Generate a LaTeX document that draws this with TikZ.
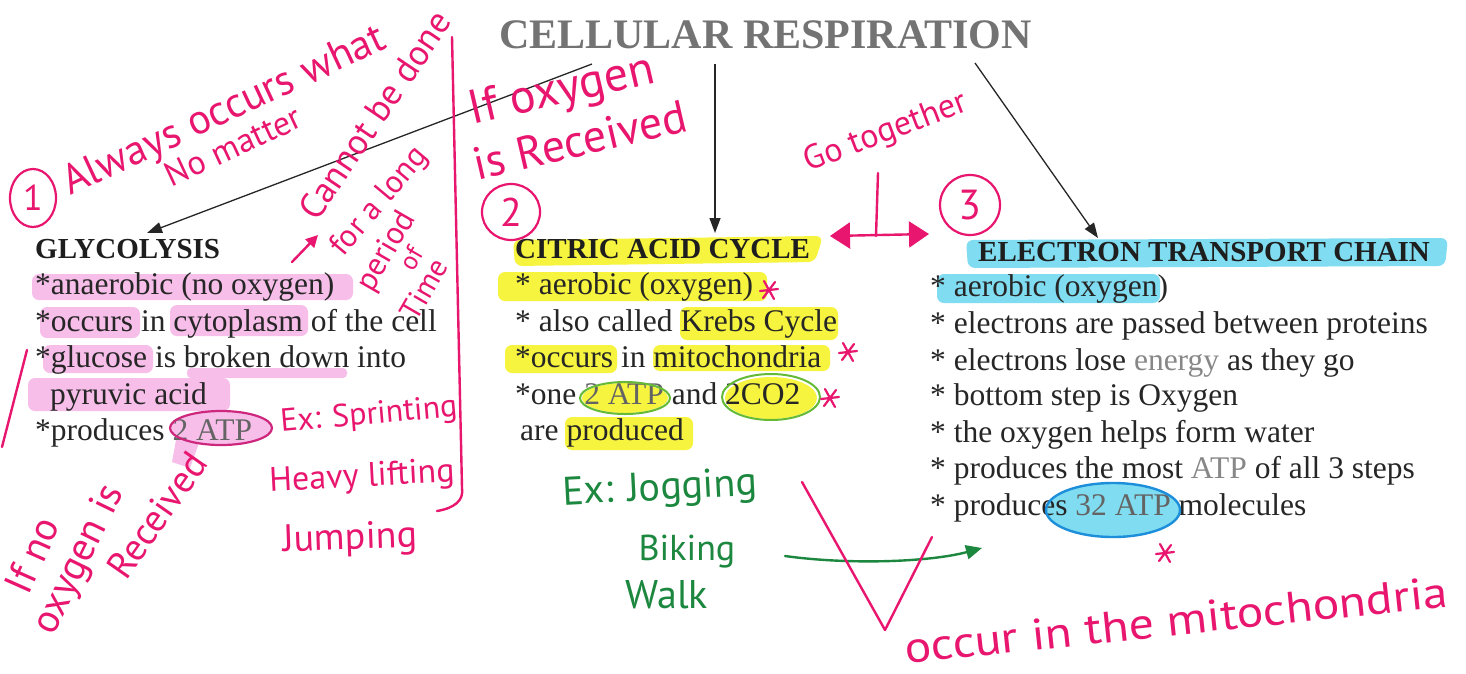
\documentclass[tikz,border=0pt]{standalone}
\usepackage{fontspec}
\setmainfont{Liberation Serif}
\newfontfamily\bodyserif{Liberation Serif}
\newfontfamily\hand{PT Sans}
\usetikzlibrary{shapes.geometric,arrows.meta}
\newcommand\fsz[1]{\fontsize{#1}{#1}\selectfont}
\definecolor{ink}{RGB}{232,22,110}
\definecolor{gink}{RGB}{28,135,62}
\definecolor{hlpink}{RGB}{247,190,234}
\definecolor{hlyel}{RGB}{246,244,62}
\definecolor{hlcyan}{RGB}{128,220,240}
\definecolor{titlegray}{RGB}{115,115,115}
\definecolor{bodytxt}{RGB}{38,38,38}
\definecolor{headtxt}{RGB}{30,30,30}
\definecolor{lightword}{RGB}{135,135,135}
\definecolor{grayword}{RGB}{100,100,100}
\definecolor{ringgreen}{RGB}{100,185,55}
\definecolor{ringblue}{RGB}{28,142,218}
\definecolor{ringpink}{RGB}{205,40,125}
\tikzset{pstar/.pic={\draw[draw=ink,line width=2.2pt,line cap=round] (-9,1)--(9,-1) (-5,-9)--(5,9) (-6,8)--(6,-8);}}
\begin{document}
\begin{tikzpicture}[x=1pt,y=-1pt,
  body/.style={anchor=base west, inner sep=0pt, text=bodytxt, font=\bodyserif\fsz{31.5}},
  head/.style={anchor=base west, inner sep=0pt, text=headtxt, font=\bodyserif\bfseries\fsz{29}},
  hw/.style={inner sep=0pt, text=ink, font=\hand\fsz{#1}},
  gw/.style={inner sep=0pt, text=gink, font=\hand\fsz{#1}},
  pen/.style={draw=ink, line width=2.4pt, line cap=round, line join=round},
  gpen/.style={draw=gink, line width=2.4pt, line cap=round},
  conn/.style={draw=black!85, line width=1.3pt, -{Triangle[length=15pt,width=11pt]}},
  hlp/.style={fill=hlpink, rounded corners=7pt},
  hly/.style={fill=hlyel, rounded corners=7pt},
  hlc/.style={fill=hlcyan, rounded corners=7pt},
  numring/.style={draw=ink, line width=2.2pt, ellipse, inner sep=0pt, text=ink, font=\hand\fsz{#1}}
]
\useasboundingbox (0,0) rectangle (1466,673);
\fill[white] (0,0) rectangle (1466,673);

% ---------- highlights ----------
% glycolysis (pink)
\fill[hlp] (32,274) rectangle (353,300);
\fill[hlp] (40,307) rectangle (140,338);
\fill[hlp] (170,305) rectangle (308,336);
\fill[hlp] (43,345) rectangle (153,373);
\fill[hlp, rounded corners=4pt] (187,368) rectangle (347,378);
\fill[hlp] (28,378) rectangle (230,411);
\fill[hlpink] (221,428) ellipse [x radius=50, y radius=17];
\fill[hlpink] (176,440) -- (200,440) -- (190,468) -- (172,462) -- cycle;
% citric acid cycle (yellow)
\fill[hly] (513,240) -- (823,236) -- (815,262) -- (515,266) -- cycle;
\fill[hly] (498,272) rectangle (767,301);
\fill[hly] (680,307) rectangle (838,340);
\fill[hly] (505,345) rectangle (617,373);
\fill[hly] (653,345) rectangle (830,371);
\fill[hlyel] (625,398) ellipse [x radius=43, y radius=15];
\fill[hlyel] (771,398) ellipse [x radius=46, y radius=21];
\fill[hly] (565,417) rectangle (693,450);
% electron transport chain (cyan)
\fill[hlc] (966,240) -- (1448,238) -- (1445,266) -- (968,268) -- cycle;
\fill[hlc] (937,274) rectangle (1160,303);
\fill[hlcyan] (1113,510) ellipse [x radius=66, y radius=27];

% ---------- title and arrows ----------
\node[anchor=base west, inner sep=0pt, text=titlegray, font=\bodyserif\bfseries\fsz{42}] (title) at (499,48) {CELLULAR RESPIRATION};
\coordinate (ta) at (592,64);
\coordinate (tb) at (715,64);
\coordinate (tc) at (975,63);
\coordinate (ga) at (147,233);
\coordinate (cb) at (715,233);
\coordinate (ec) at (1098,238);
\draw[conn] (ta) -- (ga);
\draw[conn] (tb) -- (cb);
\draw[conn] (tc) -- (ec);

% ---------- glycolysis ----------
\node[head] (glyc) at (35,258) {GLYCOLYSIS};
\node[body] (g1) at (35,294) {*anaerobic (no oxygen)};
\node[body] (g2) at (35,331) {*occurs in cytoplasm of the cell};
\node[body] (g3) at (35,367) {*glucose is broken down into};
\node[body] (g4) at (50,404) {pyruvic acid};
\node[body] (g5) at (35,440) {*produces \textcolor{grayword}{2 ATP}};
\draw[draw=ringpink, line width=2.2pt] (221,428) ellipse [x radius=51, y radius=17];

% ---------- citric acid cycle ----------
\node[head] (cac) at (515,258) {CITRIC ACID CYCLE};
\node[body] (c1) at (515,294) {* aerobic (oxygen)};
\node[body] (c2) at (515,331) {* also called Krebs Cycle};
\node[body] (c3) at (515,367) {*occurs in mitochondria};
\node[body] (c4) at (515,404) {*one \textcolor{grayword}{2 ATP} and 2CO2};
\node[body] (c5) at (520,440) {are produced};
\draw[draw=ringgreen, line width=2pt] (625,398) ellipse [x radius=45, y radius=16];
\draw[draw=ringgreen, line width=2pt] (771,397) ellipse [x radius=49, y radius=23];

% ---------- electron transport chain ----------
\node[head] (etc) at (978,261) {ELECTRON TRANSPORT CHAIN};
\node[body] (e1) at (930,296) {* aerobic (oxygen)};
\node[body] (e2) at (930,333) {* electrons are passed between proteins};
\node[body] (e3) at (930,370) {* electrons lose \textcolor{lightword}{energy} as they go};
\node[body] (e4) at (930,405) {* bottom step is Oxygen};
\node[body] (e5) at (930,442) {* the oxygen helps form water};
\node[body] (e6) at (930,478) {* produces the most \textcolor{lightword}{ATP} of all 3 steps};
\node[body] (e7) at (930,515) {* produces \textcolor{grayword}{32 ATP} molecules};
\draw[draw=ringblue, line width=2.4pt] (1113,510) ellipse [x radius=67, y radius=27];

% ---------- pink handwriting ----------
\node[numring=36, minimum width=46pt, minimum height=58pt] (n1) at (33,198) {1};
\node[numring=40, minimum width=58pt, minimum height=56pt] (n2) at (511,212) {2};
\node[numring=42, minimum width=60pt, minimum height=60pt] (n3) at (970,205) {3};

\node[hw=42, rotate=25] (h1) at (225,112) {Always occurs what};
\node[hw=34, rotate=25] (h2) at (233,146) {No matter};
\node[hw=36, rotate=56] (h3) at (375,115) {Cannot be done};
\node[hw=32, rotate=50] (h4) at (380,202) {for a long};
\node[hw=32, rotate=60] (h5) at (387,252) {period};
\node[hw=26, rotate=60] (h6) at (411,258) {of};
\node[hw=30, rotate=60] (h7) at (424,289) {Time};
\coordinate (pa1) at (292,262);
\coordinate (pa2) at (318,235);
\draw[pen, -{Triangle[length=12pt,width=12pt]}] (pa1) -- (pa2);

\coordinate (vl1) at (452,37);
\coordinate (vl2) at (462,488);
\coordinate (vl3) at (437,511);
\draw[pen] (vl1) -- (vl2) .. controls (464,500) and (455,508) .. (vl3);

\node[hw=48, rotate=13] (h8) at (562,92) {If oxygen};
\node[hw=46, rotate=13] (h9) at (580,140) {is Received};
\node[hw=34, rotate=21] (h10) at (886,133) {Go together};

\coordinate (bl) at (830,236);
\coordinate (br) at (929,234);
\coordinate (bt) at (878,173);
\coordinate (bm) at (876,236);
\draw[pen, {Triangle[length=20pt,width=26pt]}-{Triangle[length=20pt,width=26pt]}] (bl) -- (br);
\draw[pen] (bt) -- (bm);

\node[hw=32, rotate=5] (h11) at (369,416) {Ex: Sprinting};
\node[hw=34, rotate=3] (h12) at (362,478) {Heavy lifting};
\node[hw=38, rotate=2] (h13) at (350,540) {Jumping};

\coordinate (ls1) at (27,350);
\coordinate (ls2) at (2,447);
\draw[pen] (ls1) -- (ls2);
\node[hw=40, rotate=66] (h14) at (32,555) {If no};
\node[hw=40, rotate=64] (h15) at (80,560) {oxygen is};
\node[hw=38, rotate=55] (h16) at (157,515) {Received};

\pic at (769,290) {pstar};
\pic at (848,352) {pstar};
\pic at (830,398) {pstar};
\pic at (1165,553) {pstar};

% ---------- green handwriting ----------
\node[gw=40, rotate=3] (j1) at (660,490) {Ex: Jogging};
\node[gw=36] (j2) at (687,552) {Biking};
\node[gw=40] (j3) at (667,595) {Walk};
\coordinate (ga1) at (785,556);
\coordinate (ga2) at (982,548);
\draw[gpen, -{Triangle[length=16pt,width=14pt]}] (ga1) .. controls (850,565) and (930,562) .. (ga2);

% ---------- check mark and bottom note ----------
\coordinate (v1) at (802,482);
\coordinate (v2) at (885,630);
\coordinate (v3) at (932,537);
\draw[pen] (v1) -- (v2) -- (v3);
\node[hw=44, rotate=6, xscale=1.13] (h17) at (1176,620) {occur in the mitochondria};
\end{tikzpicture}
\end{document}
